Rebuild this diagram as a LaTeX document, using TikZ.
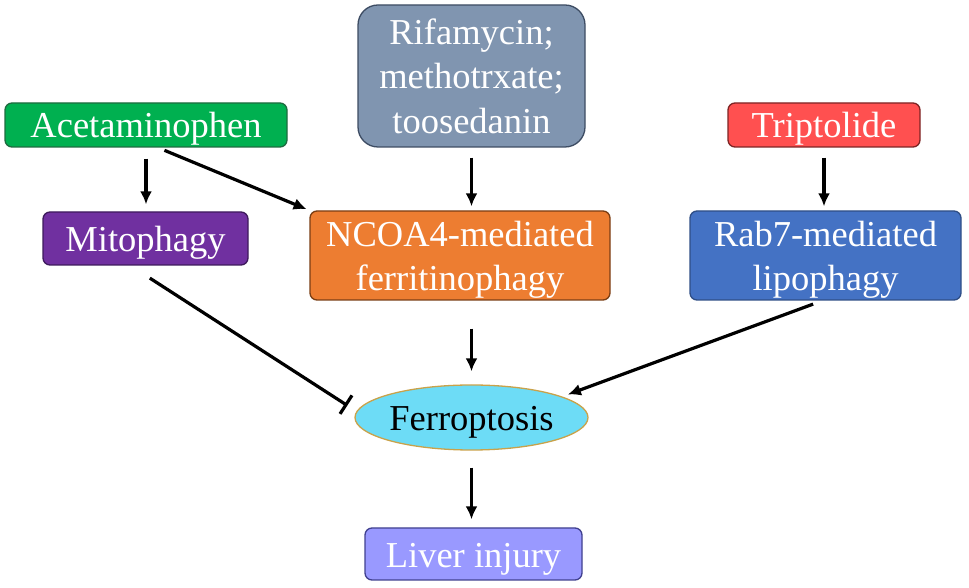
\documentclass[tikz,border=0pt]{standalone}
\usepackage{fontspec}
\setmainfont{Liberation Serif}
\usetikzlibrary{arrows.meta,shapes.geometric}
\definecolor{acetfill}{HTML}{00B050}
\definecolor{acetline}{HTML}{1E6B40}
\definecolor{mitofill}{HTML}{7030A0}
\definecolor{mitoline}{HTML}{3E1A5C}
\definecolor{ncoafill}{HTML}{ED7D31}
\definecolor{ncoaline}{HTML}{7A3E14}
\definecolor{rifafill}{HTML}{8095B0}
\definecolor{rifaline}{HTML}{3D4C63}
\definecolor{tripfill}{HTML}{FF5050}
\definecolor{tripline}{HTML}{7D2424}
\definecolor{rabfill}{HTML}{4472C4}
\definecolor{rabline}{HTML}{2F4E86}
\definecolor{ferrofill}{HTML}{6DDCF6}
\definecolor{ferroline}{HTML}{C9A24A}
\definecolor{liverfill}{HTML}{9999FF}
\definecolor{liverline}{HTML}{40408F}
\newcommand{\twolines}[2]{\raisebox{-4bp}[\height][\depth]{\begin{tabular}{@{}c@{}}#1\\#2\end{tabular}}}
\begin{document}
\begin{tikzpicture}[>={Latex[length=13bp,width=12bp]},line join=bevel,
  box/.style={draw,rounded corners=7bp,line width=1.3bp,inner sep=0pt,text=white,align=center,font=\fontsize{36.5bp}{44.5bp}\selectfont},
  oneline/.style={text height=26bp,text depth=0bp},
  link/.style={black,line width=3.2bp},]
%%
\useasboundingbox (0bp,0bp) rectangle (969bp,588bp);
\node (node_acetaminophen) at (146bp,463bp) [box,oneline,fill=acetfill,draw=acetline,minimum width=282bp,minimum height=44bp] {Acetaminophen};
  \node (node_rifamycin) at (471.5bp,512bp) [box,fill=rifafill,draw=rifaline,rounded corners=20bp,minimum width=227bp,minimum height=142bp] {Rifamycin;\\methotrxate;\\toosedanin};
  \node (node_triptolide) at (824bp,463bp) [box,oneline,fill=tripfill,draw=tripline,minimum width=192bp,minimum height=44bp] {Triptolide};
  \node (node_mitophagy) at (145.5bp,349.5bp) [box,oneline,fill=mitofill,draw=mitoline,minimum width=205bp,minimum height=53bp] {Mitophagy};
  \node (node_ncoa4) at (460bp,332.5bp) [box,fill=ncoafill,draw=ncoaline,minimum width=300bp,minimum height=87bp] {\twolines{NCOA4-mediated}{ferritinophagy}};
  \node (node_rab7) at (825.5bp,332.5bp) [box,fill=rabfill,draw=rabline,minimum width=271bp,minimum height=87bp] {\twolines{Rab7-mediated}{lipophagy}};
  \node (node_ferroptosis) at (471.5bp,170.5bp) [box,oneline,ellipse,text=black,fill=ferrofill,draw=ferroline,minimum width=233bp,minimum height=65bp] {Ferroptosis};
  \node (node_liver) at (473.5bp,34bp) [box,oneline,fill=liverfill,draw=liverline,minimum width=217bp,minimum height=52bp] {Liver injury};
  \draw [link,->,shorten <=11bp,shorten >=7bp] (node_acetaminophen.south) -- (node_acetaminophen.south |- node_mitophagy.north);
  \draw [link,->,shorten <=7bp,shorten >=3bp] ([xshift=12bp]node_acetaminophen.south) -- (node_ncoa4.north west);
  \draw [link,->,shorten <=10bp,shorten >=4bp] (node_rifamycin.south) -- (node_rifamycin.south |- node_ncoa4.north);
  \draw [link,->,shorten <=10bp,shorten >=4bp] (node_triptolide.south) -- (node_triptolide.south |- node_rab7.north);
  \draw [link,->,shorten <=28bp,shorten >=13bp] (node_ferroptosis.north |- node_ncoa4.south) -- (node_ferroptosis.north);
  \draw [link,-{Bar[width=22bp]},shorten <=23bp] ([xshift=-15bp]node_mitophagy.south) -- ([shift={(-7bp,12bp)}]node_ferroptosis.west);
  \draw [link,->,shorten <=10bp,shorten >=6bp] ([xshift=-3bp]node_rab7.south) -- (node_ferroptosis.13);
  \draw [link,->,shorten <=17bp,shorten >=8bp] (node_ferroptosis.south) -- (node_ferroptosis.south |- node_liver.north);
%
\end{tikzpicture}
\end{document}
